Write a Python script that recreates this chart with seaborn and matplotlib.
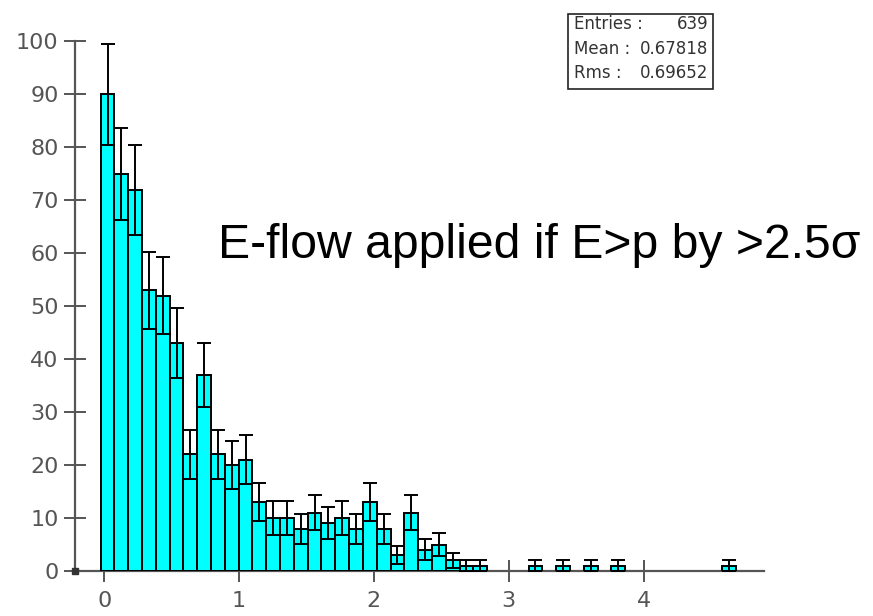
import numpy as np
import pandas as pd
import matplotlib
matplotlib.use("Agg")
import matplotlib.pyplot as plt
from matplotlib.patches import Rectangle
import seaborn as sns

# ---- data ----
bin_start = -0.027
bin_width = 0.1024
bin_index = [0, 1, 2, 3, 4, 5, 6, 7, 8, 9, 10, 11, 12, 13, 14, 15, 16, 17, 18, 19,
             20, 21, 22, 23, 24, 25, 26, 27, 31, 33, 35, 37, 45]
counts = [90, 75, 72, 53, 52, 43, 22, 37, 22, 20, 21, 13, 10, 10, 8, 11, 9, 10, 8, 13,
          8, 3, 11, 4, 5, 2, 1, 1, 1, 1, 1, 1, 1]
n_bins = 46
xticks = [0, 1, 2, 3, 4]
xtick_labels = ["0", "1", "2", "3", "4"]
yticks = [0, 10, 20, 30, 40, 50, 60, 70, 80, 90, 100]
stats_labels = ["Entries :", "Mean :", "Rms :"]
stats_values = ["639", "0.67818", "0.69652"]
annotation = "E-flow applied if E>p by >2.5σ"

edges = [bin_start + bin_width * k for k in range(n_bins + 1)]
centers = [bin_start + bin_width * (k + 0.5) for k in bin_index]
df = pd.DataFrame({"x": centers, "n": counts})

sns.set_style("white")
plt.rcParams["font.family"] = ["DejaVu Sans"]

W, H = 873, 616
fig = plt.figure(figsize=(W / 100, H / 100), dpi=100)
ax_l, ax_r, ax_t, ax_b = 75, 764.3, 41.3, 571
ax = fig.add_axes([ax_l / W, (H - ax_b) / H, (ax_r - ax_l) / W, (ax_b - ax_t) / H])

sns.histplot(data=df, x="x", weights="n", bins=edges, ax=ax,
             color="#00FFFF", edgecolor="black", linewidth=1.4, alpha=1)
for p in ax.patches:
    if p.get_height() == 0:
        p.set_visible(False)

ax.errorbar(df["x"], df["n"], yerr=np.sqrt(df["n"]), fmt="none",
            ecolor="black", elinewidth=1.4, capsize=5.0, capthick=1.4,
            clip_on=False, zorder=3)

ax.set_xlim(-0.217, 4.896)
ax.set_ylim(0, 100)
ax.set_xlabel("")
ax.set_ylabel("")
ax.set_xticks(xticks)
ax.set_xticklabels(xtick_labels)
ax.set_yticks(yticks)
ax.set_yticklabels([str(v) for v in yticks])

axis_col = "#555555"
for s in ["top", "right"]:
    ax.spines[s].set_visible(False)
for s in ["left", "bottom"]:
    ax.spines[s].set_color(axis_col)
    ax.spines[s].set_linewidth(1.6)
    ax.spines[s].set_zorder(0.5)
ax.tick_params(axis="both", which="major", bottom=True, left=True,
               direction="inout", length=15.5, width=1.4,
               color=axis_col, labelcolor=axis_col, labelsize=16)
ax.tick_params(axis="y", pad=4)
ax.tick_params(axis="x", pad=7)
ax.plot([ax.get_xlim()[0]], [0], marker="s", markersize=4, color="#333333",
        clip_on=False, zorder=5)

# big annotation
fig.text(218 / W, 1 - 245 / H, annotation, fontsize=34.7, family=["Liberation Sans"],
         ha="left", va="center", color="black")

# statistics box
bx0, by0, bx1, by1 = 568, 14, 713, 89
fig.patches.append(Rectangle((bx0 / W, 1 - by1 / H), (bx1 - bx0) / W, (by1 - by0) / H,
                             transform=fig.transFigure, facecolor="white",
                             edgecolor="#222222", linewidth=1.2))
for i, (lab, val) in enumerate(zip(stats_labels, stats_values)):
    yy = 1 - (24 + 24.5 * i) / H
    fig.text(574 / W, yy, lab, fontsize=12, color="#333333", ha="left", va="center")
    fig.text(708 / W, yy, val, fontsize=12, color="#333333", ha="right", va="center")

fig.savefig("out.png", dpi=100)
